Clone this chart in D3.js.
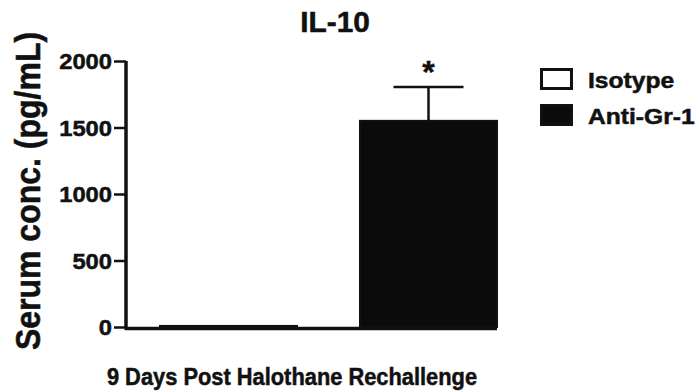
<!DOCTYPE html>
<html>
<head>
<meta charset="utf-8">
<script src="https://cdn.jsdelivr.net/npm/d3@7"></script>
<style>
  html, body { margin: 0; padding: 0; background: #fff; }
  svg text { font-family: "Liberation Sans", Arial, sans-serif; font-weight: bold; fill: #111; stroke: #111; stroke-width: 0.5px; }
</style>
</head>
<body>
<div id="chart"></div>
<script>
// chart data
const groups = ['Isotype', 'Anti-Gr-1'];
const means = [8, 1550];
const errors = [0, 255];
const significance = ['', '*'];
const yTicks = [0, 500, 1000, 1500, 2000];

const width = 699, height = 392;
const svg = d3.select('#chart').append('svg')
    .attr('width', width)
    .attr('height', height);

// scales
const y = d3.scaleLinear().domain([0, 2000]).range([327, 61]);
const x = d3.scaleBand().domain(groups).range([160, 497]).paddingInner(0.315).paddingOuter(0);
const fill = d3.scaleOrdinal().domain(groups).range(['#fff', '#0b0b0c']);

// stretched text helper (the figure text is a bit wide)
function stretchText(sel, px, py, sx, rot) {
    sel.attr('transform', `translate(${px},${py}) scale(${sx},1)` + (rot ? ` rotate(${rot})` : ''));
}

// bars
svg.selectAll('rect.bar')
    .data(groups)
    .enter()
    .append('rect')
    .attr('class', 'bar')
    .attr('x', d => x(d))
    .attr('y', (d, i) => y(means[i]))
    .attr('width', x.bandwidth())
    .attr('height', (d, i) => y(0) - y(means[i]))
    .attr('fill', d => fill(d))
    .attr('stroke', '#111')
    .attr('stroke-width', 2);

// error bars (upper only)
const err = svg.selectAll('g.err')
    .data(groups.filter((d, i) => errors[i] > 0))
    .enter()
    .append('g')
    .attr('class', 'err');

err.append('line')
    .attr('x1', d => x(d) + x.bandwidth() / 2)
    .attr('x2', d => x(d) + x.bandwidth() / 2)
    .attr('y1', d => y(means[groups.indexOf(d)]))
    .attr('y2', d => { const i = groups.indexOf(d); return y(means[i] + errors[i]); })
    .attr('stroke', '#111')
    .attr('stroke-width', 2.5);

err.append('line')
    .attr('x1', d => x(d) + x.bandwidth() / 2 - 35)
    .attr('x2', d => x(d) + x.bandwidth() / 2 + 35)
    .attr('y1', d => { const i = groups.indexOf(d); return y(means[i] + errors[i]); })
    .attr('y2', d => { const i = groups.indexOf(d); return y(means[i] + errors[i]); })
    .attr('stroke', '#111')
    .attr('stroke-width', 2.5);

// significance star
groups.forEach((g, i) => {
    if (!significance[i]) return;
    svg.append('text')
        .attr('x', x(g) + x.bandwidth() / 2)
        .attr('y', y(means[i] + errors[i]) - 4)
        .attr('text-anchor', 'middle')
        .style('font-size', '32px')
        .text(significance[i]);
});

// y axis
const yAxis = d3.axisLeft(y).tickValues(yTicks).tickSize(12).tickPadding(2).tickFormat(d3.format('d'));
const yg = svg.append('g')
    .attr('transform', 'translate(126,0)')
    .call(yAxis);
yg.select('.domain').attr('stroke', '#111').attr('stroke-width', 3.5).attr('d', `M0,${y(2000)}V${y(0)}`);
yg.selectAll('.tick line').attr('stroke', '#111').attr('stroke-width', 2.5);
yg.selectAll('.tick text')
    .style('font-size', '22px')
    .attr('fill', '#111')
    .each(function() {
        const t = d3.select(this);
        const ty = +t.attr('y') || 0;
        t.attr('x', null).attr('dy', '0.36em');
        stretchText(t, -14, ty, 1.08);
    });

// x axis line
svg.append('line')
    .attr('x1', 124.5)
    .attr('x2', 497)
    .attr('y1', y(0) + 1.5)
    .attr('y2', y(0) + 1.5)
    .attr('stroke', '#111')
    .attr('stroke-width', 3.5);

// title
svg.append('text')
    .attr('text-anchor', 'middle')
    .style('font-size', '29px')
    .text('IL-10')
    .call(stretchText, 335, 32, 1.03);

// x axis title
svg.append('text')
    .attr('text-anchor', 'middle')
    .style('font-size', '23px')
    .text('9 Days Post Halothane Rechallenge')
    .call(stretchText, 292, 385, 0.95);

// y axis title
svg.append('text')
    .attr('text-anchor', 'middle')
    .style('font-size', '32px')
    .text('Serum conc. (pg/mL)')
    .call(stretchText, 40, 191, 1.12, -90);

// legend
const legend = svg.append('g').attr('transform', 'translate(540,0)');
const legendY = [68, 104];
groups.forEach((g, i) => {
    legend.append('rect')
        .attr('x', 1.5)
        .attr('y', legendY[i] + 1.5)
        .attr('width', 30)
        .attr('height', 19)
        .attr('fill', fill(g))
        .attr('stroke', '#111')
        .attr('stroke-width', 3);
    legend.append('text')
        .style('font-size', '22px')
        .text(g)
        .call(stretchText, 48, legendY[i] + 20, 1.12);
});
</script>
</body>
</html>
